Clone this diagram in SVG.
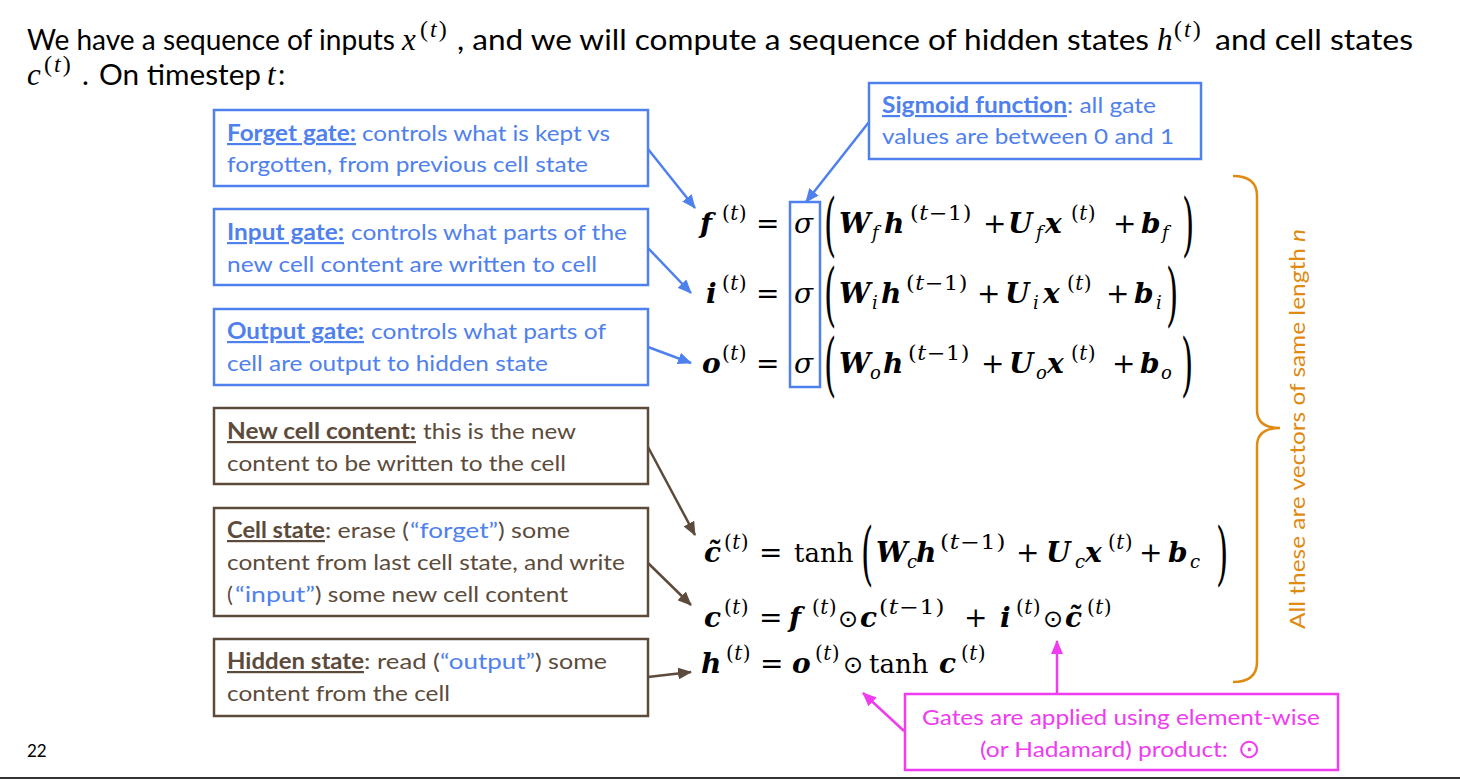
<svg xmlns="http://www.w3.org/2000/svg" width="1460" height="780" viewBox="0 0 1460 780">
<style>
.bt{font-family:Lato,'Open Sans',sans-serif;font-size:22px;}
.tt{font-family:Lato,'Open Sans',sans-serif;font-size:29px;fill:#000;}
.tm{font-family:'Liberation Serif',serif;font-size:31px;font-style:italic;fill:#000;}
.ts{font-family:'Liberation Serif',serif;font-size:24px;letter-spacing:2px;fill:#000;}
.blue{fill:#4F81EE;}
.brown{fill:#5C4B3B;}
.mag{fill:#EE3CEE;}
.org{fill:#E08A12;}
.u{font-weight:bold;text-decoration:underline;}
.bx{fill:#fff;stroke-width:2.5;}
.sb{stroke:#4F81EE;}
.sr{stroke:#5C4B3B;}
.sm{stroke:#EE3CEE;}
.m{font-family:'DejaVu Serif',serif;font-size:28px;fill:#000;}
.fn{font-family:'DejaVu Serif',serif;font-size:26px;fill:#000;}
.bi{font-weight:bold;font-style:italic;}
.it{font-style:italic;}
.s{font-family:'DejaVu Serif',serif;font-size:20px;letter-spacing:0.5px;fill:#000;}
.sub{font-family:'DejaVu Serif',serif;font-size:18px;font-style:italic;fill:#000;}
.od{font-family:'DejaVu Sans',sans-serif;font-size:24px;fill:#000;}
.bp{font-family:'DejaVu Serif',serif;font-size:70px;fill:#000;}
.cl{fill:none;stroke-width:2.5;}
</style>
<defs>
<marker id="ab" markerUnits="userSpaceOnUse" markerWidth="14" markerHeight="12" refX="13" refY="6" orient="auto"><path d="M0,0 L14,6 L0,12 z" fill="#4F81EE"/></marker>
<marker id="ar" markerUnits="userSpaceOnUse" markerWidth="14" markerHeight="12" refX="13" refY="6" orient="auto"><path d="M0,0 L14,6 L0,12 z" fill="#5C4B3B"/></marker>
<marker id="am" markerUnits="userSpaceOnUse" markerWidth="14" markerHeight="12" refX="13" refY="6" orient="auto"><path d="M0,0 L14,6 L0,12 z" fill="#EE3CEE"/></marker>
</defs>

<g id="title">
<text class="tt" x="27" y="50" textLength="368" lengthAdjust="spacingAndGlyphs">We have a sequence of inputs</text>
<text class="tm" x="402" y="50">x</text>
<text class="ts" x="420" y="37">(<tspan font-style="italic">t</tspan>)</text>
<text class="tt" x="457" y="50" textLength="692" lengthAdjust="spacingAndGlyphs">, and we will compute a sequence of hidden states</text>
<text class="tm" x="1157" y="50">h</text>
<text class="ts" x="1174" y="37">(<tspan font-style="italic">t</tspan>)</text>
<text class="tt" x="1215" y="50" textLength="198" lengthAdjust="spacingAndGlyphs">and cell states</text>
<text class="tm" x="27" y="85">c</text>
<text class="ts" x="44" y="72">(<tspan font-style="italic">t</tspan>)</text>
<text class="tt" x="82" y="85">.</text>
<text class="tt" x="99" y="85" textLength="162" lengthAdjust="spacingAndGlyphs">On timestep</text>
<text class="tm" x="267" y="85">t</text>
<text class="tt" x="278" y="85">:</text>
</g>

<g id="forget-gate">
<rect class="bx sb" x="214" y="110" width="434" height="76"/>
<text class="bt blue u" x="227" y="141" textLength="129" lengthAdjust="spacingAndGlyphs">Forget gate:</text>
<text class="bt blue" x="362" y="141" textLength="248" lengthAdjust="spacingAndGlyphs">controls what is kept vs</text>
<text class="bt blue" x="227" y="172" textLength="361" lengthAdjust="spacingAndGlyphs">forgotten, from previous cell state</text>
</g>
<g id="input-gate">
<rect class="bx sb" x="214" y="209" width="434" height="76"/>
<text class="bt blue u" x="227" y="240" textLength="117" lengthAdjust="spacingAndGlyphs">Input gate:</text>
<text class="bt blue" x="351" y="240" textLength="276" lengthAdjust="spacingAndGlyphs">controls what parts of the</text>
<text class="bt blue" x="227" y="272" textLength="370" lengthAdjust="spacingAndGlyphs">new cell content are written to cell</text>
</g>
<g id="output-gate">
<rect class="bx sb" x="214" y="309" width="434" height="76"/>
<text class="bt blue u" x="227" y="339" textLength="137" lengthAdjust="spacingAndGlyphs">Output gate:</text>
<text class="bt blue" x="371" y="339" textLength="235" lengthAdjust="spacingAndGlyphs">controls what parts of</text>
<text class="bt blue" x="227" y="371" textLength="321" lengthAdjust="spacingAndGlyphs">cell are output to hidden state</text>
</g>
<g id="new-cell-content">
<rect class="bx sr" x="214" y="408" width="434" height="76"/>
<text class="bt brown u" x="227" y="439" textLength="189" lengthAdjust="spacingAndGlyphs">New cell content:</text>
<text class="bt brown" x="423" y="439" textLength="153" lengthAdjust="spacingAndGlyphs">this is the new</text>
<text class="bt brown" x="227" y="471" textLength="339" lengthAdjust="spacingAndGlyphs">content to be written to the cell</text>
</g>
<g id="cell-state">
<rect class="bx sr" x="214" y="508" width="434" height="108"/>
<text class="bt brown u" x="227" y="538" textLength="98" lengthAdjust="spacingAndGlyphs">Cell state</text>
<text class="bt brown" x="325" y="538" textLength="84" lengthAdjust="spacingAndGlyphs">: erase (</text>
<text class="bt blue" x="410" y="538" textLength="88" lengthAdjust="spacingAndGlyphs">“forget”</text>
<text class="bt brown" x="498" y="538" textLength="72" lengthAdjust="spacingAndGlyphs">) some</text>
<text class="bt brown" x="227" y="570" textLength="398" lengthAdjust="spacingAndGlyphs">content from last cell state, and write</text>
<text class="bt brown" x="227" y="602">(</text>
<text class="bt blue" x="235" y="602" textLength="80" lengthAdjust="spacingAndGlyphs">“input”</text>
<text class="bt brown" x="315" y="602" textLength="253" lengthAdjust="spacingAndGlyphs">) some new cell content</text>
</g>
<g id="hidden-state">
<rect class="bx sr" x="214" y="639" width="434" height="77"/>
<text class="bt brown u" x="227" y="669" textLength="137" lengthAdjust="spacingAndGlyphs">Hidden state</text>
<text class="bt brown" x="364" y="669" textLength="76" lengthAdjust="spacingAndGlyphs">: read (</text>
<text class="bt blue" x="440" y="669" textLength="95" lengthAdjust="spacingAndGlyphs">“output”</text>
<text class="bt brown" x="535" y="669" textLength="72" lengthAdjust="spacingAndGlyphs">) some</text>
<text class="bt brown" x="227" y="701" textLength="223" lengthAdjust="spacingAndGlyphs">content from the cell</text>
</g>
<g id="sigmoid-note">
<rect class="bx sb" x="869" y="83" width="332" height="76"/>
<text class="bt blue u" x="882" y="113" textLength="185" lengthAdjust="spacingAndGlyphs">Sigmoid function</text>
<text class="bt blue" x="1067" y="113" textLength="89" lengthAdjust="spacingAndGlyphs">: all gate</text>
<text class="bt blue" x="882" y="144" textLength="292" lengthAdjust="spacingAndGlyphs">values are between 0 and 1</text>
</g>
<g id="hadamard-note">
<rect class="bx sm" x="905" y="694" width="433" height="76"/>
<text class="bt mag" x="922" y="725" textLength="398" lengthAdjust="spacingAndGlyphs">Gates are applied using element-wise</text>
<text class="bt mag" x="980" y="757" textLength="248" lengthAdjust="spacingAndGlyphs">(or Hadamard) product:</text>
<text class="mag" x="1238" y="758" font-family="'DejaVu Sans',sans-serif" font-size="27">⊙</text>
</g>

<g id="sigma-box">
<rect x="790" y="202" width="30" height="185" fill="none" stroke="#4F81EE" stroke-width="2.5"/>
</g>

<g id="eq-f">
<text class="m bi" x="700" y="233">f</text>
<text class="s" x="722" y="220">(<tspan font-style="italic">t</tspan>)</text>
<text class="m" x="756" y="233">=</text>
<text class="m it" x="794" y="233">σ</text>
<text class="bp" transform="translate(824,248) scale(0.45,1)">(</text>
<text class="m bi" x="839" y="233">W</text>
<text class="sub" x="872" y="239">f</text>
<text class="m bi" x="884" y="233">h</text>
<text class="s" x="910" y="220" textLength="62" lengthAdjust="spacingAndGlyphs">(<tspan font-style="italic">t</tspan>−1)</text>
<text class="m" x="983" y="233">+</text>
<text class="m bi" x="1008" y="233">U</text>
<text class="sub" x="1036" y="239">f</text>
<text class="m bi" x="1045" y="233">x</text>
<text class="s" x="1071" y="220">(<tspan font-style="italic">t</tspan>)</text>
<text class="m" x="1113" y="233">+</text>
<text class="m bi" x="1141" y="233">b</text>
<text class="sub" x="1162" y="239">f</text>
<text class="bp" transform="translate(1182,248) scale(0.45,1)">)</text>
</g>
<g id="eq-i">
<text class="m bi" x="706" y="303">i</text>
<text class="s" x="722" y="290">(<tspan font-style="italic">t</tspan>)</text>
<text class="m" x="756" y="303">=</text>
<text class="m it" x="794" y="303">σ</text>
<text class="bp" transform="translate(824,318) scale(0.45,1)">(</text>
<text class="m bi" x="839" y="303">W</text>
<text class="sub" x="872" y="309">i</text>
<text class="m bi" x="881" y="303">h</text>
<text class="s" x="906" y="290" textLength="62" lengthAdjust="spacingAndGlyphs">(<tspan font-style="italic">t</tspan>−1)</text>
<text class="m" x="977" y="303">+</text>
<text class="m bi" x="1005" y="303">U</text>
<text class="sub" x="1033" y="309">i</text>
<text class="m bi" x="1043" y="303">x</text>
<text class="s" x="1067" y="290">(<tspan font-style="italic">t</tspan>)</text>
<text class="m" x="1106" y="303">+</text>
<text class="m bi" x="1134" y="303">b</text>
<text class="sub" x="1156" y="309">i</text>
<text class="bp" transform="translate(1166,318) scale(0.45,1)">)</text>
</g>
<g id="eq-o">
<text class="m bi" x="702" y="373">o</text>
<text class="s" x="722" y="360">(<tspan font-style="italic">t</tspan>)</text>
<text class="m" x="756" y="373">=</text>
<text class="m it" x="794" y="373">σ</text>
<text class="bp" transform="translate(824,388) scale(0.45,1)">(</text>
<text class="m bi" x="839" y="373">W</text>
<text class="sub" x="870" y="379">o</text>
<text class="m bi" x="883" y="373">h</text>
<text class="s" x="908" y="360" textLength="62" lengthAdjust="spacingAndGlyphs">(<tspan font-style="italic">t</tspan>−1)</text>
<text class="m" x="981" y="373">+</text>
<text class="m bi" x="1009" y="373">U</text>
<text class="sub" x="1036" y="379">o</text>
<text class="m bi" x="1047" y="373">x</text>
<text class="s" x="1071" y="360">(<tspan font-style="italic">t</tspan>)</text>
<text class="m" x="1112" y="373">+</text>
<text class="m bi" x="1140" y="373">b</text>
<text class="sub" x="1161" y="379">o</text>
<text class="bp" transform="translate(1181,388) scale(0.45,1)">)</text>
</g>
<g id="eq-ctilde">
<text class="m bi" x="704" y="562">c̃</text>
<text class="s" x="724" y="549">(<tspan font-style="italic">t</tspan>)</text>
<text class="m" x="759" y="562">=</text>
<text class="fn" x="794" y="562">tanh</text>
<text class="bp" transform="translate(861,577) scale(0.45,1)">(</text>
<text class="m bi" x="876" y="562">W</text>
<text class="sub" x="907" y="568">c</text>
<text class="m bi" x="916" y="562">h</text>
<text class="s" x="940" y="549" textLength="66" lengthAdjust="spacingAndGlyphs">(<tspan font-style="italic">t</tspan>−1)</text>
<text class="m" x="1016" y="562">+</text>
<text class="m bi" x="1046" y="562">U</text>
<text class="sub" x="1075" y="568">c</text>
<text class="m bi" x="1085" y="562">x</text>
<text class="s" x="1108" y="549">(<tspan font-style="italic">t</tspan>)</text>
<text class="m" x="1139" y="562">+</text>
<text class="m bi" x="1168" y="562">b</text>
<text class="sub" x="1190" y="568">c</text>
<text class="bp" transform="translate(1216,577) scale(0.45,1)">)</text>
</g>
<g id="eq-c">
<text class="m bi" x="704" y="627">c</text>
<text class="s" x="724" y="614">(<tspan font-style="italic">t</tspan>)</text>
<text class="m" x="759" y="627">=</text>
<text class="m bi" x="789" y="627">f</text>
<text class="s" x="812" y="614">(<tspan font-style="italic">t</tspan>)</text>
<text class="od" x="838" y="627">⊙</text>
<text class="m bi" x="860" y="627">c</text>
<text class="s" x="879" y="614" textLength="66" lengthAdjust="spacingAndGlyphs">(<tspan font-style="italic">t</tspan>−1)</text>
<text class="m" x="964" y="627">+</text>
<text class="m bi" x="1000" y="627">i</text>
<text class="s" x="1016" y="614">(<tspan font-style="italic">t</tspan>)</text>
<text class="od" x="1043" y="627">⊙</text>
<text class="m bi" x="1065" y="627">c̃</text>
<text class="s" x="1087" y="614">(<tspan font-style="italic">t</tspan>)</text>
</g>
<g id="eq-h">
<text class="m bi" x="701" y="673">h</text>
<text class="s" x="726" y="660">(<tspan font-style="italic">t</tspan>)</text>
<text class="m" x="760" y="673">=</text>
<text class="m bi" x="792" y="673">o</text>
<text class="s" x="815" y="660">(<tspan font-style="italic">t</tspan>)</text>
<text class="od" x="843" y="673">⊙</text>
<text class="fn" x="869" y="673">tanh</text>
<text class="m bi" x="939" y="673">c</text>
<text class="s" x="961" y="660">(<tspan font-style="italic">t</tspan>)</text>
</g>

<g id="brace">
<path d="M1233,176 Q1257,176 1257,196 L1257,410 Q1257,428 1280,428 Q1257,428 1257,446 L1257,662 Q1257,682 1233,682" fill="none" stroke="#E08A12" stroke-width="2.5"/>
<text class="bt org" transform="translate(1305,629) rotate(-90)" textLength="400" lengthAdjust="spacingAndGlyphs">All these are vectors of same length <tspan font-style="italic">n</tspan></text>
</g>

<g id="connectors">
<line class="cl sb" x1="648" y1="149" x2="695" y2="208" marker-end="url(#ab)"/>
<line class="cl sb" x1="648" y1="248" x2="691" y2="293" marker-end="url(#ab)"/>
<line class="cl sb" x1="648" y1="347" x2="691" y2="363" marker-end="url(#ab)"/>
<line class="cl sb" x1="869" y1="122" x2="806" y2="202" marker-end="url(#ab)"/>
<line class="cl sr" x1="648" y1="447" x2="695" y2="535" marker-end="url(#ar)"/>
<line class="cl sr" x1="648" y1="563" x2="691" y2="605" marker-end="url(#ar)"/>
<line class="cl sr" x1="648" y1="677" x2="691" y2="672" marker-end="url(#ar)"/>
<line class="cl sm" x1="1057" y1="694" x2="1057" y2="641" marker-end="url(#am)"/>
<line class="cl sm" x1="904" y1="731" x2="863" y2="693" marker-end="url(#am)"/>
</g>

<g id="footer">
<text x="27" y="757" font-family="Lato,'Open Sans',sans-serif" font-size="17" fill="#000">22</text>
<line x1="0" y1="778" x2="1460" y2="778" stroke="#333" stroke-width="2"/>
</g>
</svg>
